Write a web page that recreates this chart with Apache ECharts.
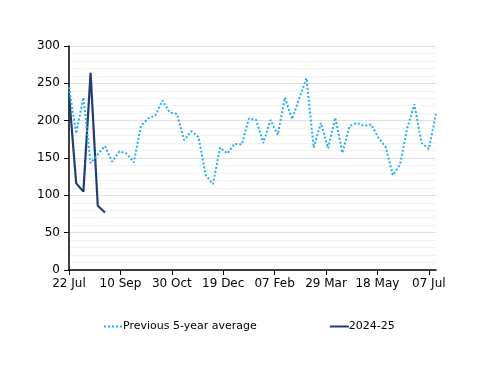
<!DOCTYPE html>
<html>
<head>
<meta charset="utf-8">
<script src="https://cdn.jsdelivr.net/npm/echarts@6/dist/echarts.min.js"></script>
<style>html,body{margin:0;padding:0;background:#fff}#c{width:500px;height:386px}</style>
</head>
<body>
<div id="c"></div>
<script>
// Days since 22 Jul for each weekly observation
const weekDays = [0,7,14,21,28,35,42,49,56,63,70,77,84,91,98,105,112,119,126,133,140,147,154,161,168,175,182,189,196,203,210,217,224,231,238,245,252,259,266,273,280,287,294,301,308,315,322,329,336,343,350,357];
const prevAvg = [245,183,231,143,155,166,145,159,156,144,193,203,207,227,211,209,174,186,178,127,115,164,156,169,168,203,201,170,201,181,231,202,230,257,164,197,163,204,157,193,197,193,195,177,165,127,141,190,222,170,162,209];
const current = [235,116,105,264,86,77];
const xTickDays = [0,50,100,150,200,250,300,350];
const xTickLabels = ['22 Jul','10 Sep','30 Oct','19 Dec','07 Feb','29 Mar','18 May','07 Jul'];
const seriesNames = ['Previous 5-year average','2024-25'];

const font = 'DejaVu Sans';
const chart = echarts.init(document.getElementById('c'), null, {renderer:'canvas'});
chart.setOption({
  animation:false,
  grid:{left:69,right:64,top:46,bottom:116},
  legend:{
    bottom:49, left:98,
    itemGap:72, itemWidth:19, itemHeight:8,
    itemStyle:{opacity:0},
    textStyle:{fontFamily:font,fontSize:11,color:'#000',padding:[0,0,0,-5]},
    data:seriesNames
  },
  xAxis:{
    type:'value', min:0, max:357,
    axisLine:{show:true,lineStyle:{color:'#000',width:1.5}},
    axisTick:{show:true,customValues:xTickDays,length:5,lineStyle:{color:'#000'}},
    axisLabel:{customValues:xTickDays,fontFamily:font,fontSize:12,color:'#000',margin:8,
      formatter:v=>xTickLabels[xTickDays.indexOf(v)]||''},
    splitLine:{show:false}
  },
  yAxis:{
    type:'value', min:0, max:300, interval:50,
    axisLine:{show:true,lineStyle:{color:'#000',width:1.5}},
    axisTick:{show:true,length:5,lineStyle:{color:'#000'}},
    axisLabel:{fontFamily:font,fontSize:12,color:'#000',margin:9},
    splitLine:{show:true,lineStyle:{color:'#e0e0e0',width:1}},
    minorTick:{show:false,splitNumber:5},
    minorSplitLine:{show:true,lineStyle:{color:'#f2f2f2',width:1}}
  },
  series:[
    {name:seriesNames[0],type:'line',symbol:'none',
     data:weekDays.map((d,i)=>[d,prevAvg[i]]),
     lineStyle:{color:'#1EB2EE',width:2,type:[2,2]},itemStyle:{color:'#1EB2EE'},z:3},
    {name:seriesNames[1],type:'line',symbol:'none',
     data:current.map((v,i)=>[weekDays[i],v]),
     lineStyle:{color:'#1F3E78',width:2.2},itemStyle:{color:'#1F3E78'},z:2}
  ]
});
</script>
</body>
</html>
